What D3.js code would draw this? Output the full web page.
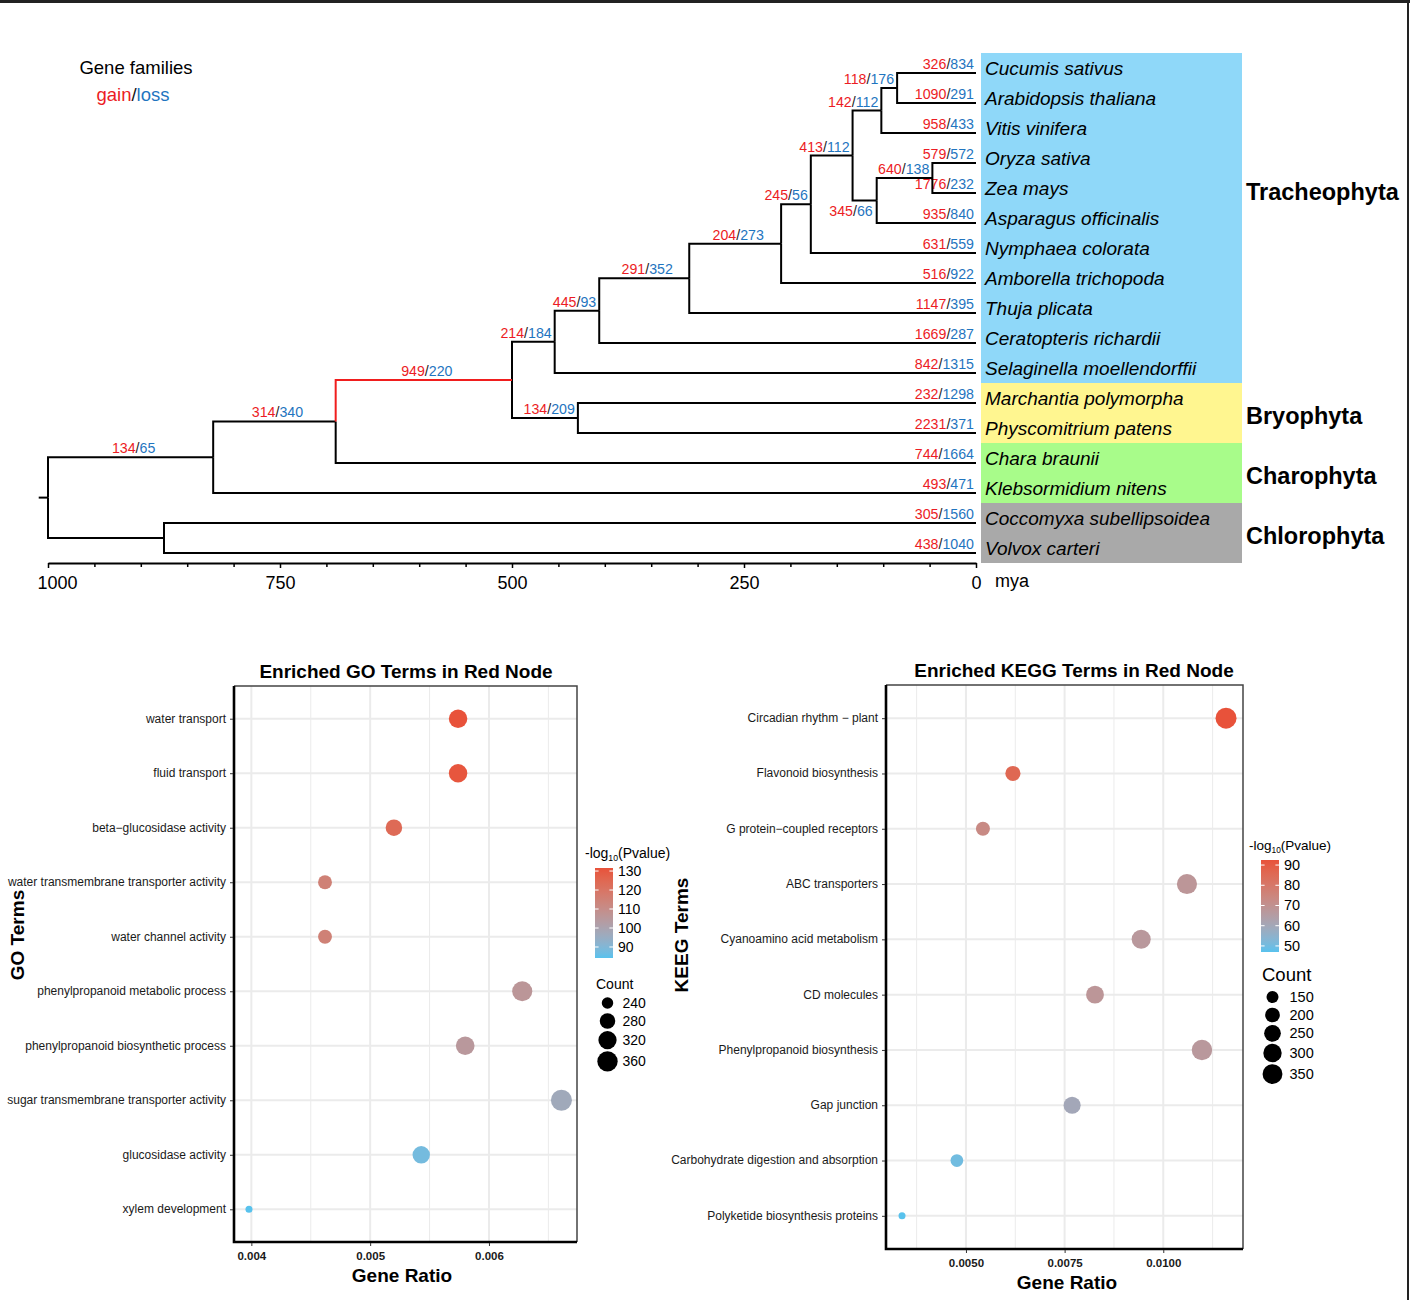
<!DOCTYPE html>
<html>
<head>
<meta charset="utf-8">
<script src="https://cdn.jsdelivr.net/npm/d3@7"></script>
<style>
  body { margin: 0; background: #fff; }
  text { font-family: "Liberation Sans", Arial, sans-serif; }
</style>
</head>
<body>
<script>
// ---- tree: tips (top to bottom) ----
const tipNames = ["Cucumis sativus", "Arabidopsis thaliana", "Vitis vinifera", "Oryza sativa", "Zea mays",
  "Asparagus officinalis", "Nymphaea colorata", "Amborella trichopoda", "Thuja plicata", "Ceratopteris richardii",
  "Selaginella moellendorffii", "Marchantia polymorpha", "Physcomitrium patens", "Chara braunii",
  "Klebsormidium nitens", "Coccomyxa subellipsoidea", "Volvox carteri"];
const tipGain = [326, 1090, 958, 579, 1776, 935, 631, 516, 1147, 1669, 842, 232, 2231, 744, 493, 305, 438];
const tipLoss = [834, 291, 433, 572, 232, 840, 559, 922, 395, 287, 1315, 1298, 371, 1664, 471, 1560, 1040];
const tipParent = ["ros", "ros", "eud", "poa", "poa", "mon", "mes", "ang", "spe", "eup", "tra", "bry", "bry",
  "phr", "str", "chl", "chl"];

// ---- tree: internal nodes (age in mya, gain/loss on the branch leading to the node) ----
const nodeIds    = ["root", "chl", "str", "phr", "emb", "tra", "eup", "spe", "ang", "mes", "me", "eud", "ros", "mon", "poa", "bry"];
const nodeParent = [null, "root", "root", "str", "phr", "emb", "tra", "eup", "spe", "ang", "mes", "me", "eud", "me", "mon", "emb"];
const nodeAge    = [1000, 875, 822, 690, 500, 454, 406, 309, 210, 178, 133, 102, 85, 107, 47, 429];
const nodeGain   = [null, null, 134, 314, 949, 214, 445, 291, 204, 245, 413, 142, 118, 345, 640, 134];
const nodeLoss   = [null, null, 65, 340, 220, 184, 93, 352, 273, 56, 112, 112, 176, 66, 138, 209];
const redNode = "emb";

const clades = ["Tracheophyta", "Bryophyta", "Charophyta", "Chlorophyta"];
const cladeSize = [11, 2, 2, 2];
const ageTicks = [1000, 750, 500, 250, 0];

// ---- GO enrichment ----
const goTerms = ["water transport", "fluid transport", "beta\u2212glucosidase activity",
  "water transmembrane transporter activity", "water channel activity", "phenylpropanoid metabolic process",
  "phenylpropanoid biosynthetic process", "sugar transmembrane transporter activity", "glucosidase activity",
  "xylem development"];
const goRatio = [0.00574, 0.00574, 0.00520, 0.00462, 0.00462, 0.00628, 0.00580, 0.00661, 0.00543, 0.00398];
const goCount = [324, 324, 294, 261, 261, 355, 328, 373, 307, 225];
const goLogP  = [131.6, 130.5, 124, 115, 115, 106, 105, 97, 88, 84.2];
const goTicks = [0.004, 0.005, 0.006];
const goColorBreaks = [90, 100, 110, 120, 130];
const goCountBreaks = [240, 280, 320, 360];

// ---- KEGG enrichment ----
const keggTerms = ["Circadian rhythm \u2212 plant", "Flavonoid biosynthesis", "G protein\u2212coupled receptors",
  "ABC transporters", "Cyanoamino acid metabolism", "CD molecules", "Phenylpropanoid biosynthesis",
  "Gap junction", "Carbohydrate digestion and absorption", "Polyketide biosynthesis proteins"];
const keggRatio = [0.01159, 0.00619, 0.00543, 0.01060, 0.00944, 0.00827, 0.01098, 0.00769, 0.00477, 0.00338];
const keggCount = [394, 210, 185, 360, 321, 281, 373, 261, 162, 115];
const keggLogP  = [92.5, 86, 73, 68, 67, 68, 67, 60, 50, 47];
const keggTicks = [0.005, 0.0075, 0.01];
const keggColorBreaks = [50, 60, 70, 80, 90];
const keggCountBreaks = [150, 200, 250, 300, 350];

const gainColor = "#ec1c24", lossColor = "#1f75c0";
const cladeColors = ["#8fd8f9", "#fff690", "#a8fc8a", "#a9a9a9"];
const lowColor = "#58c2ed", highColor = "#e8523a";

const W = 1410, H = 1300;
const svg = d3.select("body").append("svg").attr("width", W).attr("height", H);

// frame lines at top and right
svg.append("line").attr("x1", 0).attr("x2", W).attr("y1", 1.5).attr("y2", 1.5)
  .attr("stroke", "#222").attr("stroke-width", 3);
svg.append("line").attr("x1", 1408).attr("x2", 1408).attr("y1", 0).attr("y2", H)
  .attr("stroke", "#222").attr("stroke-width", 2);

// ================= tree =================
const xAge = d3.scaleLinear().domain([1000, 0]).range([48, 976]);
const rows = d3.scaleLinear().domain([0, tipNames.length]).range([53, 563]);
const tipY = i => rows(i) + 20;

const table = nodeIds.map((id, i) => ({ id, parent: nodeParent[i], age: nodeAge[i], gain: nodeGain[i], loss: nodeLoss[i] }))
  .concat(tipNames.map((n, i) => ({ id: n, parent: tipParent[i], age: 0, gain: tipGain[i], loss: tipLoss[i], tip: i })));
const root = d3.stratify().id(d => d.id).parentId(d => d.parent)(table);
root.eachAfter(n => {
  n.px = xAge(n.data.age);
  n.py = n.children ? (d3.min(n.children, c => c.py) + d3.max(n.children, c => c.py)) / 2 : tipY(n.data.tip);
});

// clade boxes
let start = 0;
clades.forEach((c, k) => {
  const y0 = rows(start), y1 = rows(start + cladeSize[k]);
  svg.append("rect").attr("x", 981).attr("y", y0).attr("width", 261).attr("height", y1 - y0)
    .attr("fill", cladeColors[k]);
  const ly = k === 0 ? (y0 + y1) / 2 - 26 : (y0 + y1) / 2 + 3;
  svg.append("text").attr("x", 1246).attr("y", ly + 8).attr("font-size", 23.5).attr("font-weight", "bold")
    .text(c);
  start += cladeSize[k];
});

svg.selectAll(".species").data(tipNames).enter().append("text")
  .attr("class", "species")
  .attr("x", 985).attr("y", (d, i) => rows(i) + 21.5)
  .attr("font-size", 19).attr("font-style", "italic")
  .text(d => d);

// gain/loss labels
function glText(x, y, anchor, gain, loss) {
  const t = svg.append("text").attr("x", x).attr("y", y).attr("text-anchor", anchor).attr("font-size", 14.2);
  t.append("tspan").attr("fill", gainColor).text(gain);
  t.append("tspan").attr("fill", "#222").text("/");
  t.append("tspan").attr("fill", lossColor).text(loss);
}
root.descendants().forEach(n => {
  if (n.data.gain == null) return;
  if (!n.children) { glText(974, n.py - 4, "end", n.data.gain, n.data.loss); return; }
  const p = n.parent.px;
  if (n.data.id === "mon") glText(n.px - 4, n.py + 15, "end", n.data.gain, n.data.loss);
  else if (n.px - p >= 80) glText((p + n.px) / 2 + 3, n.py - 4, "middle", n.data.gain, n.data.loss);
  else glText(n.px - 3, n.py - 4, "end", n.data.gain, n.data.loss);
});

// branches
const links = root.links().sort((a, b) => (a.target.id === redNode) - (b.target.id === redNode));
svg.append("g").selectAll("path").data(links).enter().append("path")
  .attr("d", l => `M${l.source.px},${l.source.py}V${l.target.py}H${l.target.px}`)
  .attr("fill", "none")
  .attr("stroke", l => l.target.id === redNode ? "#f01e1e" : "#000")
  .attr("stroke-width", 2);
svg.append("line").attr("x1", xAge(1010)).attr("x2", root.px).attr("y1", root.py).attr("y2", root.py)
  .attr("stroke", "#000").attr("stroke-width", 2);

// age axis
const ageAxis = svg.append("g").attr("transform", "translate(0,563)")
  .call(d3.axisBottom(xAge).tickValues(ageTicks).tickSize(5).tickSizeOuter(0).tickFormat(d3.format("d")));
ageAxis.select(".domain").attr("stroke-width", 2);
ageAxis.selectAll(".tick line").attr("stroke-width", 1.5);
ageAxis.selectAll(".tick text").attr("font-size", 18).attr("y", 13).attr("fill", "#000")
  .attr("dx", d => d === 1000 ? 9 : 0);
svg.append("g").attr("transform", "translate(0,563)")
  .call(d3.axisBottom(xAge).tickValues(d3.range(950, 0, -50).filter(v => !ageTicks.includes(v)))
    .tickSize(4).tickFormat(""))
  .call(g => g.select(".domain").remove())
  .selectAll(".tick line").attr("stroke-width", 1.5);
svg.append("text").attr("x", 995).attr("y", 587).attr("font-size", 18).text("mya");

// legend
svg.append("text").attr("x", 136).attr("y", 74).attr("text-anchor", "middle").attr("font-size", 18.5)
  .text("Gene families");
const gl = svg.append("text").attr("x", 133).attr("y", 101).attr("text-anchor", "middle").attr("font-size", 18.5);
gl.append("tspan").attr("fill", gainColor).text("gain");
gl.append("tspan").attr("fill", "#111").text("/");
gl.append("tspan").attr("fill", lossColor).text("loss");

// ================= dot plots =================
const defs = svg.append("defs");

function dotPlot(o) {
  const g = svg.append("g");
  const x = d3.scaleLinear().domain(o.xDomain).range([o.left, o.right]);
  const y = d3.scalePoint().domain(o.terms).range([o.top, o.bottom]).padding(0.6);
  const cExt = d3.extent(o.logP);
  const color = d3.scaleLinear().domain(cExt).range([lowColor, highColor]).interpolate(d3.interpolateLab);
  const nExt = d3.extent(o.count);
  const rr = d3.scaleLinear().domain([0, 1]).range([3.5, 10.5]);
  const size = c => rr(Math.sqrt(Math.max(0, (c - nExt[0]) / (nExt[1] - nExt[0]))));

  const step = o.ticks[1] - o.ticks[0];
  const minor = d3.range(o.ticks[0] - step / 2, o.xDomain[1], step).filter(v => v > o.xDomain[0]);

  g.selectAll(".minor").data(minor).enter().append("line")
    .attr("x1", d => x(d)).attr("x2", d => x(d)).attr("y1", o.top).attr("y2", o.bottom)
    .attr("stroke", "#ebebeb").attr("stroke-width", 1);
  g.selectAll(".vmajor").data(o.ticks).enter().append("line")
    .attr("x1", d => x(d)).attr("x2", d => x(d)).attr("y1", o.top).attr("y2", o.bottom)
    .attr("stroke", "#ebebeb").attr("stroke-width", 2);
  g.selectAll(".hmajor").data(o.terms).enter().append("line")
    .attr("x1", o.left).attr("x2", o.right).attr("y1", d => y(d)).attr("y2", d => y(d))
    .attr("stroke", "#ebebeb").attr("stroke-width", 2);

  // border and axis lines
  g.append("path").attr("d", `M${o.left},${o.top}H${o.right}V${o.bottom}`)
    .attr("fill", "none").attr("stroke", "#444").attr("stroke-width", 1.5);
  g.append("path").attr("d", `M${o.left},${o.top}V${o.bottom}H${o.right}`)
    .attr("fill", "none").attr("stroke", "#000").attr("stroke-width", 2.6);

  // points
  g.selectAll("circle").data(o.terms).enter().append("circle")
    .attr("cx", (d, i) => x(o.ratio[i])).attr("cy", d => y(d))
    .attr("r", (d, i) => size(o.count[i]))
    .attr("fill", (d, i) => color(o.logP[i]));

  // y axis
  const ya = g.append("g").attr("transform", `translate(${o.left - 1},0)`)
    .call(d3.axisLeft(y).tickSize(3).tickPadding(4));
  ya.select(".domain").remove();
  ya.selectAll(".tick line").attr("stroke", "#333");
  ya.selectAll(".tick text").attr("font-size", 12).attr("fill", "#1a1a1a").attr("dy", "0.28em");

  // x axis
  const xa = g.append("g").attr("transform", `translate(0,${o.bottom + 1})`)
    .call(d3.axisBottom(x).tickValues(o.ticks).tickSize(3).tickPadding(6).tickFormat(d3.format(o.fmt)));
  xa.select(".domain").remove();
  xa.selectAll(".tick line").attr("stroke", "#333");
  xa.selectAll(".tick text").attr("font-size", 11.5).attr("font-weight", "bold").attr("fill", "#1a1a1a");

  g.append("text").attr("x", o.titleX).attr("y", o.top - 8).attr("text-anchor", "middle")
    .attr("font-size", 19).attr("font-weight", "bold").text(o.title);
  g.append("text").attr("x", o.xTitleX).attr("y", o.bottom + 40).attr("text-anchor", "middle")
    .attr("font-size", 19).attr("font-weight", "bold").text("Gene Ratio");
  g.append("text").attr("transform", `translate(${o.yTitleX},935) rotate(-90)`).attr("text-anchor", "middle")
    .attr("font-size", 19).attr("font-weight", "bold").text(o.yTitle);

  // colour legend
  const lt = g.append("text").attr("x", o.legX).attr("y", o.barTop - 10).attr("font-size", o.legTitleSize);
  lt.append("tspan").text("-log");
  lt.append("tspan").attr("font-size", o.legTitleSize * 0.62).attr("dy", 3).text("10");
  lt.append("tspan").attr("dy", -3).text("(Pvalue)");

  const gid = "grad" + o.id;
  const grad = defs.append("linearGradient").attr("id", gid).attr("x1", 0).attr("x2", 0).attr("y1", 1).attr("y2", 0);
  d3.range(0, 1.001, 0.05).forEach(t => {
    grad.append("stop").attr("offset", t).attr("stop-color", color(cExt[0] + t * (cExt[1] - cExt[0])));
  });
  const bar = d3.scaleLinear().domain(cExt).range([o.barBottom, o.barTop]);
  g.append("rect").attr("x", o.barX).attr("y", o.barTop).attr("width", 18).attr("height", o.barBottom - o.barTop)
    .attr("fill", `url(#${gid})`);
  o.colorBreaks.forEach(b => {
    g.append("line").attr("x1", o.barX).attr("x2", o.barX + 3.6).attr("y1", bar(b)).attr("y2", bar(b))
      .attr("stroke", "#fff").attr("stroke-width", 1);
    g.append("line").attr("x1", o.barX + 14.4).attr("x2", o.barX + 18).attr("y1", bar(b)).attr("y2", bar(b))
      .attr("stroke", "#fff").attr("stroke-width", 1);
    g.append("text").attr("x", o.barX + 23).attr("y", bar(b) + 5).attr("font-size", o.legLabelSize).text(b);
  });

  // size legend
  g.append("text").attr("x", o.countX).attr("y", o.countY).attr("font-size", o.countTitleSize).text("Count");
  let cy = o.keyTop;
  let prevH = null;
  o.countBreaks.forEach(b => {
    const r = size(b);
    const h = Math.max(18, 2 * r + 2);
    if (prevH !== null) cy += (prevH + h) / 2;
    prevH = h;
    g.append("circle").attr("cx", o.keyX).attr("cy", cy).attr("r", r).attr("fill", "#000");
    g.append("text").attr("x", o.keyX + o.keyLabelDx).attr("y", cy + 5).attr("font-size", o.legLabelSize).text(b);
  });
}

dotPlot({
  id: "go", terms: goTerms, ratio: goRatio, count: goCount, logP: goLogP,
  left: 234, right: 577, top: 686, bottom: 1242, xDomain: [0.003854, 0.006741],
  ticks: goTicks, fmt: ".3f", title: "Enriched GO Terms in Red Node", titleX: 406, xTitleX: 402,
  yTitle: "GO Terms", yTitleX: 24,
  legX: 585, legTitleSize: 14, barX: 595, barTop: 868, barBottom: 958, colorBreaks: goColorBreaks,
  legLabelSize: 14, countX: 596, countY: 989, countTitleSize: 14,
  keyX: 607.5, keyTop: 1003, keyLabelDx: 15, countBreaks: goCountBreaks
});

dotPlot({
  id: "kegg", terms: keggTerms, ratio: keggRatio, count: keggCount, logP: keggLogP,
  left: 886, right: 1243, top: 685, bottom: 1249, xDomain: [0.002974, 0.01202],
  ticks: keggTicks, fmt: ".4f", title: "Enriched KEGG Terms in Red Node", titleX: 1074, xTitleX: 1067,
  yTitle: "KEEG Terms", yTitleX: 688,
  legX: 1249, legTitleSize: 13.5, barX: 1261, barTop: 860, barBottom: 952, colorBreaks: keggColorBreaks,
  legLabelSize: 14.5, countX: 1262, countY: 981, countTitleSize: 18.5,
  keyX: 1272.5, keyTop: 997, keyLabelDx: 17, countBreaks: keggCountBreaks
});
</script>
</body>
</html>
